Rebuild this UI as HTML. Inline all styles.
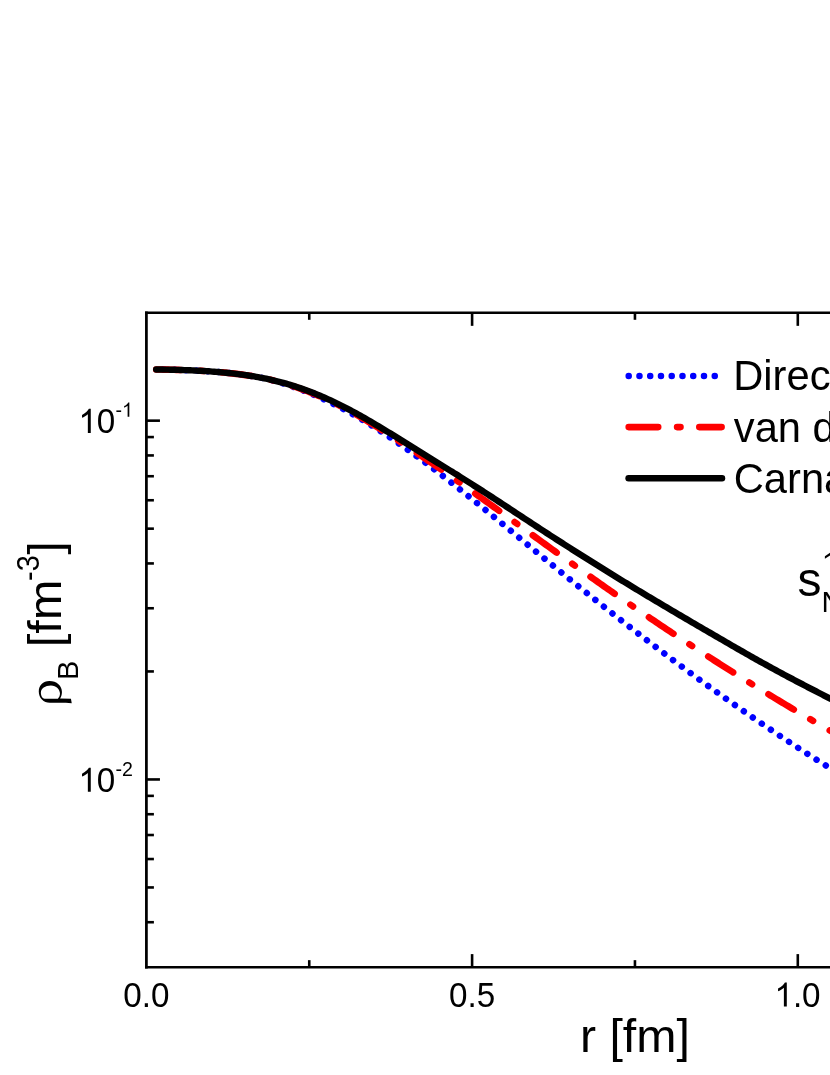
<!DOCTYPE html><html><head><meta charset="utf-8"><title>plot</title>
<style>html,body{margin:0;padding:0;background:#fff;overflow:hidden}svg{display:block}text{font-family:"Liberation Sans",sans-serif;fill:#000}</style></head><body>
<svg width="830" height="1075" viewBox="0 0 830 1075" style="will-change:transform">
<rect x="0" y="0" width="830" height="1075" fill="#fff"/>
<path d="M156.2,369.49 L158.2,369.51 L160.2,369.53 L162.2,369.56 L164.2,369.59 L166.2,369.63 L168.2,369.66 L170.2,369.71 L172.2,369.75 L174.2,369.80 L176.2,369.85 L178.2,369.90 L180.2,369.96 L182.2,370.02 L184.2,370.09 L186.2,370.16 L188.2,370.24 L190.2,370.32 L192.2,370.41 L194.2,370.50 L196.2,370.59 L198.2,370.69 L200.2,370.80 L202.2,370.91 L204.2,371.03 L206.2,371.16 L208.2,371.29 L210.2,371.42 L212.2,371.57 L214.2,371.72 L216.2,371.87 L218.2,372.04 L220.2,372.21 L222.2,372.38 L224.2,372.57 L226.2,372.76 L228.2,372.96 L230.2,373.17 L232.2,373.39 L234.2,373.61 L236.2,373.85 L238.2,374.10 L240.2,374.35 L242.2,374.62 L244.2,374.90 L246.2,375.19 L248.2,375.48 L250.2,375.79 L252.2,376.12 L254.2,376.45 L256.2,376.80 L258.2,377.16 L260.2,377.53 L262.2,377.92 L264.2,378.32 L266.2,378.73 L268.2,379.19 L270.2,379.68 L272.2,380.19 L274.2,380.72 L276.2,381.27 L278.2,381.85 L280.2,382.44 L282.2,383.06 L284.2,383.70 L286.2,384.35 L288.2,385.02 L290.2,385.71 L292.2,386.42 L294.2,387.13 L296.2,387.86 L298.2,388.60 L300.2,389.35 L302.2,390.11 L304.2,390.89 L306.2,391.68 L308.2,392.48 L310.2,393.30 L312.2,394.14 L314.2,394.99 L316.2,395.86 L318.2,396.74 L320.2,397.64 L322.2,398.55 L324.2,399.47 L326.2,400.41 L328.2,401.37 L330.2,402.33 L332.2,403.32 L334.2,404.31 L336.2,405.32 L338.2,406.35 L340.2,407.39 L342.2,408.44 L344.2,409.51 L346.2,410.59 L348.2,411.68 L350.2,412.79 L352.2,413.91 L354.2,415.04 L356.2,416.19 L358.2,417.35 L360.2,418.52 L362.2,419.71 L364.2,420.91 L366.2,422.12 L368.2,423.34 L370.2,424.58 L372.2,425.82 L374.2,427.08 L376.2,428.35 L378.2,429.63 L380.2,430.92 L382.2,432.23 L384.2,433.54 L386.2,434.87 L388.2,436.20 L390.2,437.55 L392.2,438.90 L394.2,440.26 L396.2,441.64 L398.2,443.02 L400.2,444.41 L402.2,445.82 L404.2,447.23 L406.2,448.65 L408.2,450.07 L410.2,451.51 L412.2,452.95 L414.2,454.41 L416.2,455.87 L418.2,457.33 L420.2,458.81 L422.2,460.29 L424.2,461.78 L426.2,463.27 L428.2,464.78 L430.2,466.29 L432.2,467.80 L434.2,469.32 L436.2,470.85 L438.2,472.38 L440.2,473.92 L442.2,475.46 L444.2,477.01 L446.2,478.57 L448.2,480.13 L450.2,481.69 L452.2,483.26 L454.2,484.83 L456.2,486.41 L458.2,487.99 L460.2,489.58 L462.2,491.17 L464.2,492.77 L466.2,494.37 L468.2,495.97 L470.2,497.58 L472.2,499.19 L474.2,500.80 L476.2,502.42 L478.2,504.04 L480.2,505.66 L482.2,507.29 L484.2,508.92 L486.2,510.55 L488.2,512.18 L490.2,513.82 L492.2,515.45 L494.2,517.09 L496.2,518.74 L498.2,520.38 L500.2,522.02 L502.2,523.67 L504.2,525.32 L506.2,526.97 L508.2,528.62 L510.2,530.27 L512.2,531.92 L514.2,533.58 L516.2,535.23 L518.2,536.89 L520.2,538.54 L522.2,540.20 L524.2,541.85 L526.2,543.51 L528.2,545.16 L530.2,546.81 L532.2,548.47 L534.2,550.12 L536.2,551.77 L538.2,553.43 L540.2,555.08 L542.2,556.73 L544.2,558.38 L546.2,560.02 L548.2,561.67 L550.2,563.31 L552.2,564.95 L554.2,566.59 L556.2,568.23 L558.2,569.87 L560.2,571.50 L562.2,573.13 L564.2,574.76 L566.2,576.39 L568.2,578.02 L570.2,579.64 L572.2,581.26 L574.2,582.88 L576.2,584.50 L578.2,586.12 L580.2,587.73 L582.2,589.34 L584.2,590.95 L586.2,592.56 L588.2,594.16 L590.2,595.77 L592.2,597.37 L594.2,598.97 L596.2,600.56 L598.2,602.16 L600.2,603.75 L602.2,605.34 L604.2,606.92 L606.2,608.51 L608.2,610.09 L610.2,611.67 L612.2,613.25 L614.2,614.83 L616.2,616.40 L618.2,617.97 L620.2,619.54 L622.2,621.10 L624.2,622.67 L626.2,624.23 L628.2,625.79 L630.2,627.34 L632.2,628.90 L634.2,630.45 L636.2,632.00 L638.2,633.54 L640.2,635.09 L642.2,636.63 L644.2,638.17 L646.2,639.70 L648.2,641.24 L650.2,642.77 L652.2,644.30 L654.2,645.82 L656.2,647.35 L658.2,648.87 L660.2,650.38 L662.2,651.90 L664.2,653.41 L666.2,654.92 L668.2,656.43 L670.2,657.93 L672.2,659.43 L674.2,660.93 L676.2,662.43 L678.2,663.92 L680.2,665.41 L682.2,666.90 L684.2,668.38 L686.2,669.87 L688.2,671.34 L690.2,672.82 L692.2,674.29 L694.2,675.76 L696.2,677.23 L698.2,678.70 L700.2,680.16 L702.2,681.62 L704.2,683.07 L706.2,684.53 L708.2,685.98 L710.2,687.42 L712.2,688.87 L714.2,690.31 L716.2,691.74 L718.2,693.18 L720.2,694.61 L722.2,696.04 L724.2,697.46 L726.2,698.89 L728.2,700.31 L730.2,701.72 L732.2,703.13 L734.2,704.54 L736.2,705.95 L738.2,707.35 L740.2,708.75 L742.2,710.15 L744.2,711.55 L746.2,712.94 L748.2,714.32 L750.2,715.71 L752.2,717.09 L754.2,718.46 L756.2,719.84 L758.2,721.21 L760.2,722.58 L762.2,723.94 L764.2,725.30 L766.2,726.66 L768.2,728.01 L770.2,729.36 L772.2,730.71 L774.2,732.05 L776.2,733.39 L778.2,734.73 L780.2,736.06 L782.2,737.39 L784.2,738.72 L786.2,740.04 L788.2,741.36 L790.2,742.68 L792.2,743.99 L794.2,745.30 L796.2,746.60 L798.2,747.90 L800.2,749.20 L802.2,750.50 L804.2,751.79 L806.2,753.07 L808.2,754.36 L810.2,755.63 L812.2,756.91 L814.2,758.18 L816.2,759.45 L818.2,760.72 L820.2,761.98 L822.2,763.23 L824.2,764.49 L826.2,765.74 L828.2,766.98 L830.2,768.22 L832.2,769.46 L834.2,770.70 L836.2,771.93 L838.2,773.15 L840.2,774.38 L842.2,775.59 L844.2,776.81" fill="none" stroke="#0000ff" stroke-width="6.5" stroke-linecap="round" stroke-dasharray="0.01 10.91" stroke-dashoffset="3.0"/>
<path d="M156.2,369.49 L158.2,369.51 L160.2,369.53 L162.2,369.56 L164.2,369.59 L166.2,369.63 L168.2,369.66 L170.2,369.71 L172.2,369.75 L174.2,369.80 L176.2,369.85 L178.2,369.90 L180.2,369.96 L182.2,370.02 L184.2,370.09 L186.2,370.16 L188.2,370.24 L190.2,370.32 L192.2,370.41 L194.2,370.50 L196.2,370.59 L198.2,370.69 L200.2,370.80 L202.2,370.91 L204.2,371.03 L206.2,371.16 L208.2,371.29 L210.2,371.42 L212.2,371.57 L214.2,371.72 L216.2,371.87 L218.2,372.04 L220.2,372.21 L222.2,372.38 L224.2,372.57 L226.2,372.76 L228.2,372.96 L230.2,373.17 L232.2,373.39 L234.2,373.61 L236.2,373.85 L238.2,374.10 L240.2,374.35 L242.2,374.62 L244.2,374.90 L246.2,375.19 L248.2,375.48 L250.2,375.79 L252.2,376.12 L254.2,376.45 L256.2,376.80 L258.2,377.16 L260.2,377.53 L262.2,377.92 L264.2,378.32 L266.2,378.73 L268.2,379.17 L270.2,379.63 L272.2,380.11 L274.2,380.60 L276.2,381.12 L278.2,381.65 L280.2,382.20 L282.2,382.77 L284.2,383.35 L286.2,383.96 L288.2,384.57 L290.2,385.21 L292.2,385.85 L294.2,386.52 L296.2,387.19 L298.2,387.88 L300.2,388.58 L302.2,389.30 L304.2,390.03 L306.2,390.78 L308.2,391.54 L310.2,392.32 L312.2,393.12 L314.2,393.93 L316.2,394.75 L318.2,395.59 L320.2,396.45 L322.2,397.32 L324.2,398.21 L326.2,399.12 L328.2,400.04 L330.2,400.97 L332.2,401.92 L334.2,402.89 L336.2,403.88 L338.2,404.88 L340.2,405.89 L342.2,406.92 L344.2,407.97 L346.2,409.04 L348.2,410.11 L350.2,411.21 L352.2,412.31 L354.2,413.43 L356.2,414.56 L358.2,415.71 L360.2,416.87 L362.2,418.04 L364.2,419.22 L366.2,420.41 L368.2,421.61 L370.2,422.82 L372.2,424.05 L374.2,425.28 L376.2,426.52 L378.2,427.77 L380.2,429.02 L382.2,430.29 L384.2,431.56 L386.2,432.83 L388.2,434.12 L390.2,435.41 L392.2,436.70 L394.2,438.00 L396.2,439.30 L398.2,440.61 L400.2,441.92 L402.2,443.24 L404.2,444.56 L406.2,445.88 L408.2,447.21 L410.2,448.54 L412.2,449.87 L414.2,451.21 L416.2,452.55 L418.2,453.89 L420.2,455.24 L422.2,456.59 L424.2,457.94 L426.2,459.30 L428.2,460.66 L430.2,462.03 L432.2,463.39 L434.2,464.77 L436.2,466.14 L438.2,467.52 L440.2,468.90 L442.2,470.29 L444.2,471.67 L446.2,473.07 L448.2,474.46 L450.2,475.86 L452.2,477.26 L454.2,478.66 L456.2,480.07 L458.2,481.48 L460.2,482.89 L462.2,484.31 L464.2,485.72 L466.2,487.14 L468.2,488.56 L470.2,489.99 L472.2,491.41 L474.2,492.84 L476.2,494.27 L478.2,495.71 L480.2,497.14 L482.2,498.58 L484.2,500.01 L486.2,501.45 L488.2,502.89 L490.2,504.34 L492.2,505.78 L494.2,507.22 L496.2,508.67 L498.2,510.12 L500.2,511.57 L502.2,513.02 L504.2,514.47 L506.2,515.92 L508.2,517.37 L510.2,518.82 L512.2,520.27 L514.2,521.73 L516.2,523.18 L518.2,524.64 L520.2,526.09 L522.2,527.55 L524.2,529.00 L526.2,530.46 L528.2,531.91 L530.2,533.37 L532.2,534.82 L534.2,536.28 L536.2,537.73 L538.2,539.19 L540.2,540.64 L542.2,542.09 L544.2,543.54 L546.2,544.99 L548.2,546.44 L550.2,547.89 L552.2,549.34 L554.2,550.79 L556.2,552.24 L558.2,553.68 L560.2,555.13 L562.2,556.57 L564.2,558.01 L566.2,559.45 L568.2,560.89 L570.2,562.32 L572.2,563.76 L574.2,565.19 L576.2,566.62 L578.2,568.05 L580.2,569.47 L582.2,570.90 L584.2,572.32 L586.2,573.74 L588.2,575.16 L590.2,576.58 L592.2,577.99 L594.2,579.41 L596.2,580.82 L598.2,582.23 L600.2,583.63 L602.2,585.04 L604.2,586.44 L606.2,587.84 L608.2,589.24 L610.2,590.64 L612.2,592.03 L614.2,593.43 L616.2,594.82 L618.2,596.21 L620.2,597.59 L622.2,598.98 L624.2,600.36 L626.2,601.74 L628.2,603.12 L630.2,604.50 L632.2,605.87 L634.2,607.24 L636.2,608.61 L638.2,609.98 L640.2,611.35 L642.2,612.71 L644.2,614.07 L646.2,615.43 L648.2,616.79 L650.2,618.15 L652.2,619.50 L654.2,620.85 L656.2,622.20 L658.2,623.55 L660.2,624.89 L662.2,626.23 L664.2,627.57 L666.2,628.91 L668.2,630.25 L670.2,631.58 L672.2,632.91 L674.2,634.24 L676.2,635.57 L678.2,636.89 L680.2,638.22 L682.2,639.54 L684.2,640.85 L686.2,642.17 L688.2,643.48 L690.2,644.80 L692.2,646.10 L694.2,647.41 L696.2,648.72 L698.2,650.02 L700.2,651.32 L702.2,652.62 L704.2,653.91 L706.2,655.20 L708.2,656.50 L710.2,657.78 L712.2,659.07 L714.2,660.35 L716.2,661.64 L718.2,662.91 L720.2,664.19 L722.2,665.47 L724.2,666.74 L726.2,668.01 L728.2,669.27 L730.2,670.54 L732.2,671.80 L734.2,673.06 L736.2,674.32 L738.2,675.57 L740.2,676.83 L742.2,678.08 L744.2,679.33 L746.2,680.57 L748.2,681.82 L750.2,683.06 L752.2,684.29 L754.2,685.53 L756.2,686.76 L758.2,687.99 L760.2,689.22 L762.2,690.45 L764.2,691.67 L766.2,692.89 L768.2,694.11 L770.2,695.33 L772.2,696.54 L774.2,697.75 L776.2,698.96 L778.2,700.17 L780.2,701.37 L782.2,702.57 L784.2,703.77 L786.2,704.97 L788.2,706.16 L790.2,707.35 L792.2,708.54 L794.2,709.72 L796.2,710.91 L798.2,712.09 L800.2,713.26 L802.2,714.44 L804.2,715.61 L806.2,716.78 L808.2,717.95 L810.2,719.11 L812.2,720.28 L814.2,721.44 L816.2,722.59 L818.2,723.75 L820.2,724.90 L822.2,726.05 L824.2,727.19 L826.2,728.34 L828.2,729.48 L830.2,730.62 L832.2,731.75 L834.2,732.88 L836.2,734.01 L838.2,735.14 L840.2,736.27 L842.2,737.39 L844.2,738.51" fill="none" stroke="#ff0000" stroke-width="6.6" stroke-linecap="round" stroke-dasharray="29.5 19.15 3.2 19.25" stroke-dashoffset="4.8"/>
<path d="M156.2,369.49 L158.2,369.51 L160.2,369.53 L162.2,369.56 L164.2,369.59 L166.2,369.63 L168.2,369.66 L170.2,369.71 L172.2,369.75 L174.2,369.80 L176.2,369.85 L178.2,369.90 L180.2,369.96 L182.2,370.02 L184.2,370.09 L186.2,370.16 L188.2,370.24 L190.2,370.32 L192.2,370.41 L194.2,370.50 L196.2,370.59 L198.2,370.69 L200.2,370.80 L202.2,370.91 L204.2,371.03 L206.2,371.16 L208.2,371.29 L210.2,371.42 L212.2,371.57 L214.2,371.72 L216.2,371.87 L218.2,372.04 L220.2,372.21 L222.2,372.38 L224.2,372.57 L226.2,372.76 L228.2,372.96 L230.2,373.17 L232.2,373.39 L234.2,373.61 L236.2,373.85 L238.2,374.10 L240.2,374.35 L242.2,374.62 L244.2,374.90 L246.2,375.19 L248.2,375.48 L250.2,375.79 L252.2,376.12 L254.2,376.45 L256.2,376.80 L258.2,377.16 L260.2,377.53 L262.2,377.92 L264.2,378.32 L266.2,378.73 L268.2,379.16 L270.2,379.60 L272.2,380.06 L274.2,380.53 L276.2,381.02 L278.2,381.53 L280.2,382.05 L282.2,382.58 L284.2,383.14 L286.2,383.70 L288.2,384.29 L290.2,384.89 L292.2,385.51 L294.2,386.14 L296.2,386.79 L298.2,387.45 L300.2,388.13 L302.2,388.83 L304.2,389.54 L306.2,390.27 L308.2,391.01 L310.2,391.77 L312.2,392.54 L314.2,393.33 L316.2,394.14 L318.2,394.96 L320.2,395.80 L322.2,396.65 L324.2,397.52 L326.2,398.40 L328.2,399.30 L330.2,400.21 L332.2,401.14 L334.2,402.09 L336.2,403.05 L338.2,404.02 L340.2,405.01 L342.2,406.01 L344.2,407.03 L346.2,408.06 L348.2,409.11 L350.2,410.16 L352.2,411.23 L354.2,412.31 L356.2,413.41 L358.2,414.51 L360.2,415.63 L362.2,416.75 L364.2,417.89 L366.2,419.03 L368.2,420.18 L370.2,421.35 L372.2,422.52 L374.2,423.69 L376.2,424.88 L378.2,426.07 L380.2,427.27 L382.2,428.48 L384.2,429.69 L386.2,430.90 L388.2,432.13 L390.2,433.35 L392.2,434.58 L394.2,435.81 L396.2,437.05 L398.2,438.29 L400.2,439.53 L402.2,440.78 L404.2,442.02 L406.2,443.27 L408.2,444.52 L410.2,445.77 L412.2,447.01 L414.2,448.26 L416.2,449.51 L418.2,450.75 L420.2,452.00 L422.2,453.24 L424.2,454.48 L426.2,455.72 L428.2,456.96 L430.2,458.20 L432.2,459.44 L434.2,460.68 L436.2,461.92 L438.2,463.15 L440.2,464.39 L442.2,465.63 L444.2,466.87 L446.2,468.11 L448.2,469.35 L450.2,470.60 L452.2,471.84 L454.2,473.09 L456.2,474.33 L458.2,475.58 L460.2,476.84 L462.2,478.09 L464.2,479.35 L466.2,480.61 L468.2,481.87 L470.2,483.13 L472.2,484.40 L474.2,485.68 L476.2,486.95 L478.2,488.23 L480.2,489.51 L482.2,490.80 L484.2,492.09 L486.2,493.39 L488.2,494.68 L490.2,495.98 L492.2,497.28 L494.2,498.59 L496.2,499.90 L498.2,501.21 L500.2,502.52 L502.2,503.83 L504.2,505.14 L506.2,506.46 L508.2,507.77 L510.2,509.09 L512.2,510.41 L514.2,511.73 L516.2,513.05 L518.2,514.36 L520.2,515.68 L522.2,517.00 L524.2,518.32 L526.2,519.63 L528.2,520.95 L530.2,522.27 L532.2,523.58 L534.2,524.89 L536.2,526.20 L538.2,527.51 L540.2,528.82 L542.2,530.12 L544.2,531.42 L546.2,532.72 L548.2,534.02 L550.2,535.32 L552.2,536.61 L554.2,537.90 L556.2,539.19 L558.2,540.48 L560.2,541.77 L562.2,543.05 L564.2,544.33 L566.2,545.61 L568.2,546.89 L570.2,548.17 L572.2,549.44 L574.2,550.71 L576.2,551.98 L578.2,553.25 L580.2,554.52 L582.2,555.78 L584.2,557.04 L586.2,558.30 L588.2,559.56 L590.2,560.82 L592.2,562.07 L594.2,563.32 L596.2,564.57 L598.2,565.82 L600.2,567.07 L602.2,568.31 L604.2,569.55 L606.2,570.79 L608.2,572.03 L610.2,573.27 L612.2,574.50 L614.2,575.73 L616.2,576.97 L618.2,578.19 L620.2,579.42 L622.2,580.65 L624.2,581.87 L626.2,583.09 L628.2,584.31 L630.2,585.53 L632.2,586.74 L634.2,587.96 L636.2,589.17 L638.2,590.38 L640.2,591.58 L642.2,592.79 L644.2,593.99 L646.2,595.20 L648.2,596.40 L650.2,597.60 L652.2,598.79 L654.2,599.99 L656.2,601.18 L658.2,602.37 L660.2,603.56 L662.2,604.75 L664.2,605.93 L666.2,607.12 L668.2,608.30 L670.2,609.48 L672.2,610.66 L674.2,611.84 L676.2,613.02 L678.2,614.19 L680.2,615.37 L682.2,616.54 L684.2,617.71 L686.2,618.88 L688.2,620.05 L690.2,621.22 L692.2,622.39 L694.2,623.56 L696.2,624.72 L698.2,625.89 L700.2,627.06 L702.2,628.22 L704.2,629.39 L706.2,630.55 L708.2,631.71 L710.2,632.88 L712.2,634.04 L714.2,635.21 L716.2,636.37 L718.2,637.53 L720.2,638.69 L722.2,639.86 L724.2,641.02 L726.2,642.18 L728.2,643.34 L730.2,644.49 L732.2,645.65 L734.2,646.80 L736.2,647.96 L738.2,649.11 L740.2,650.26 L742.2,651.40 L744.2,652.55 L746.2,653.69 L748.2,654.83 L750.2,655.96 L752.2,657.09 L754.2,658.22 L756.2,659.35 L758.2,660.47 L760.2,661.59 L762.2,662.71 L764.2,663.82 L766.2,664.92 L768.2,666.03 L770.2,667.12 L772.2,668.22 L774.2,669.31 L776.2,670.39 L778.2,671.48 L780.2,672.55 L782.2,673.63 L784.2,674.70 L786.2,675.77 L788.2,676.83 L790.2,677.89 L792.2,678.95 L794.2,680.00 L796.2,681.05 L798.2,682.10 L800.2,683.15 L802.2,684.19 L804.2,685.24 L806.2,686.28 L808.2,687.31 L810.2,688.35 L812.2,689.38 L814.2,690.41 L816.2,691.44 L818.2,692.47 L820.2,693.50 L822.2,694.53 L824.2,695.55 L826.2,696.58 L828.2,697.60 L830.2,698.62 L832.2,699.65 L834.2,700.67 L836.2,701.69 L838.2,702.71 L840.2,703.73 L842.2,704.75 L844.2,705.77" fill="none" stroke="#000" stroke-width="6.4" stroke-linecap="round" stroke-linejoin="round"/>
<g stroke="#000" stroke-width="2.6" fill="none" stroke-linecap="butt">
<path d="M146.4,311.4 V968.5999999999999" stroke-width="2.75"/>
<path d="M145.03,312.7 H840" stroke-width="2.45"/>
<path d="M145.03,967.3499999999999 H840" stroke-width="2.5"/>
<path d="M309.25,312.65 v7.15"/>
<path d="M309.25,967.05 v-6.9"/>
<path d="M472.10,312.65 v13.200000000000001"/>
<path d="M472.10,967.05 v-12.950000000000001"/>
<path d="M634.95,312.65 v7.15"/>
<path d="M634.95,967.05 v-6.9"/>
<path d="M797.80,312.65 v13.200000000000001"/>
<path d="M797.80,967.05 v-12.950000000000001"/>
<path d="M146.4,420.66 h13.55"/>
<path d="M146.4,779.45 h13.55"/>
<path d="M146.4,671.44 h7.5"/>
<path d="M146.4,608.26 h7.5"/>
<path d="M146.4,563.43 h7.5"/>
<path d="M146.4,528.66 h7.5"/>
<path d="M146.4,500.25 h7.5"/>
<path d="M146.4,476.23 h7.5"/>
<path d="M146.4,455.43 h7.5"/>
<path d="M146.4,437.07 h7.5"/>
<path d="M146.4,922.22 h7.5"/>
<path d="M146.4,887.45 h7.5"/>
<path d="M146.4,859.04 h7.5"/>
<path d="M146.4,835.02 h7.5"/>
<path d="M146.4,814.22 h7.5"/>
<path d="M146.4,795.86 h7.5"/>
</g>
<text transform="translate(146.4,1006.6) scale(1,1.05)" font-size="33.2" text-anchor="middle">0.0</text>
<text transform="translate(472.1,1006.6) scale(1,1.05)" font-size="33.2" text-anchor="middle">0.5</text>
<path transform="translate(774.43,1006.60) scale(0.016211,-0.016375)" d="M763,0 L583,0 L583,1147 Q518,1085 412.5,1023 Q307,961 223,930 L223,1104 Q374,1175 487,1276 Q600,1377 647,1472 L763,1472 Z" fill="#000"/>
<text transform="translate(792.89,1006.6) scale(1,1.05)" font-size="33.2">.0</text>
<path transform="translate(78.40,432.96) scale(0.016211,-0.016375)" d="M763,0 L583,0 L583,1147 Q518,1085 412.5,1023 Q307,961 223,930 L223,1104 Q374,1175 487,1276 Q600,1377 647,1472 L763,1472 Z" fill="#000"/>
<text transform="translate(96.86,433.0) scale(1,1.05)" font-size="33.2">0</text>
<text transform="translate(115.5,416.8) scale(1,1.05)" font-size="19.6">-</text>
<path transform="translate(122.03,416.76) scale(0.009570,-0.009667)" d="M763,0 L583,0 L583,1147 Q518,1085 412.5,1023 Q307,961 223,930 L223,1104 Q374,1175 487,1276 Q600,1377 647,1472 L763,1472 Z" fill="#000"/>
<path transform="translate(78.40,791.75) scale(0.016211,-0.016375)" d="M763,0 L583,0 L583,1147 Q518,1085 412.5,1023 Q307,961 223,930 L223,1104 Q374,1175 487,1276 Q600,1377 647,1472 L763,1472 Z" fill="#000"/>
<text transform="translate(96.86,791.7) scale(1,1.05)" font-size="33.2">0</text>
<text transform="translate(115.5,775.5) scale(1,1.05)" font-size="19.6">-2</text>
<text transform="translate(579.9,1052.4) scale(1,0.973)" font-size="48.3">r [fm]</text>
<path d="M71.74,703.16 L65.81,702.68 L49.90,702.79 C43.54,702.79 38.77,697.86 38.77,691.49 C38.77,685.40 43.01,681.05 49.37,681.05 C56.80,681.05 61.94,685.93 61.94,692.02 C61.94,694.67 61.14,697.06 60.08,698.54 L70.95,698.81 Z M57.86,698.65 L44.60,698.65 C42.22,698.65 40.89,695.73 40.89,692.55 C40.89,688.31 45.13,685.40 50.96,685.40 C56.27,685.40 59.98,689.37 59.98,693.61 C59.98,695.73 59.18,697.59 57.86,698.65 Z" fill="#000" fill-rule="evenodd"/>
<text transform="translate(78.0,680.1) rotate(-90) scale(1,1.025)" font-size="29">B</text>
<text transform="translate(60.9,647.3) rotate(-90) scale(1,0.963)" font-size="48.8">[fm</text>
<text transform="translate(38.5,581.0) rotate(-90) scale(1,1.06)" font-size="29">-3</text>
<text transform="translate(60.9,554.8) rotate(-90) scale(1,0.963)" font-size="48.8">]</text>
<path d="M628.7,375.9 H716" fill="none" stroke="#0000ff" stroke-width="6.5" stroke-linecap="round" stroke-dasharray="0.01 10.745"/>
<path d="M628.7,427.1 H721.6" fill="none" stroke="#ff0000" stroke-width="6.6" stroke-linecap="round" stroke-dasharray="29.5 18.9 3.4 18.8"/>
<path d="M628.55,478.3 H722.05" fill="none" stroke="#000" stroke-width="6.4" stroke-linecap="round"/>
<text transform="translate(733.2,389.8) scale(1,1.025)" font-size="41.7">Direct</text>
<text transform="translate(733.8,441.8) scale(1,1.025)" font-size="41.7">van der Waals</text>
<text transform="translate(733.7,493.0) scale(1,1.025)" font-size="41.7">Carnahan-Starling</text>
<text x="797.5" y="596.1" font-size="48">s</text>
<text transform="translate(821.6,611.9) scale(1,1.0)" font-size="29.5">NN</text>
<path d="M824.9,556.2 L831,552.2 L831,555.0 L824.9,558.8 Z" fill="#000"/>
</svg></body></html>
